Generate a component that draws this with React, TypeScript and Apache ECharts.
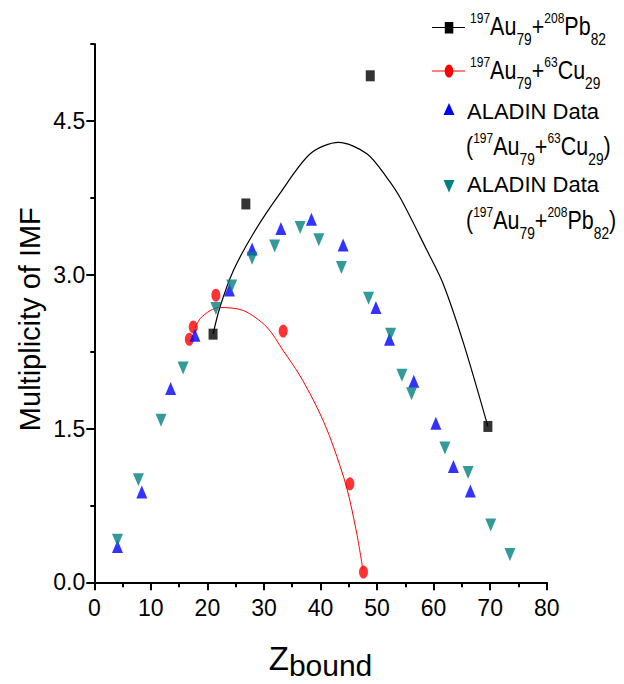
import React, { useEffect, useRef } from "react";
import * as echarts from "echarts";

// ---- Data ----
// 197Au79 + 208Pb82 (black squares) and its fit curve
const auPbZ = [21.0, 26.8, 48.8, 69.6];
const auPbM = [2.42, 3.69, 4.94, 1.52];
const auPbFitZ = [21.0, 22.2, 24.6, 28.1, 32.8, 38.2, 43.2, 48.2, 51.7, 54.1, 58.8, 61.7, 65.3, 69.6];
const auPbFitM = [2.42, 2.68, 3.04, 3.40, 3.79, 4.18, 4.29, 4.18, 3.95, 3.75, 3.24, 2.91, 2.33, 1.52];

// 197Au79 + 63Cu29 (red circles) and its fit curve
const auCuZ = [16.8, 17.5, 21.5, 33.4, 45.2, 47.6];
const auCuM = [2.37, 2.49, 2.80, 2.45, 0.96, 0.10];
const auCuFitZ = [17.8, 18.7, 20.5, 22.2, 26.4, 30.5, 33.4, 36.2, 38.7, 40.6, 42.3, 44.6, 46.4, 47.5];
const auCuFitM = [2.48, 2.57, 2.65, 2.68, 2.65, 2.49, 2.26, 2.03, 1.78, 1.56, 1.32, 0.93, 0.48, 0.12];

// ALADIN data (197Au79 + 63Cu29), blue up-triangles
const aladinCuZ = [4.1, 8.4, 13.5, 17.8, 23.9, 27.9, 33.0, 38.4, 44.0, 49.8, 52.2, 56.5, 60.4, 63.5, 66.5];
const aladinCuM = [0.35, 0.88, 1.89, 2.41, 2.85, 3.25, 3.45, 3.54, 3.29, 2.68, 2.37, 1.96, 1.55, 1.13, 0.89];

// ALADIN data (197Au79 + 208Pb82), teal down-triangles
const aladinPbZ = [4.1, 7.8, 11.8, 15.7, 21.5, 24.3, 27.9, 31.9, 36.4, 39.7, 43.7, 48.5, 52.4, 54.4, 56.1, 62.0, 66.1, 70.1, 73.5];
const aladinPbM = [0.41, 1.0, 1.58, 2.09, 2.67, 2.89, 3.16, 3.28, 3.46, 3.34, 3.07, 2.77, 2.42, 2.02, 1.84, 1.31, 1.07, 0.56, 0.27];

// Axis ticks
const yMajorTicks = [0, 1.5, 3.0, 4.5];
const xMin = 0;
const xMax = 80;
const xStep = 10;
const yMin = 0;
const yMax = 5.25;
const yMinorStep = 0.75;

const pairs = (xs: number[], ys: number[]) => xs.map((x, i) => [x, ys[i]]);

const TICK_FONT = "'Liberation Sans', Arial, sans-serif";
const LFONT = "'Liberation Sans', Arial, sans-serif";

const isoRich: any = {
  sup: { fontSize: 14, lineHeight: 14, padding: [1, 0, 0, 0], verticalAlign: "top", fontFamily: LFONT, fill: "#000" },
  big: { fontSize: 25, lineHeight: 25, padding: [4, 0, 0, 0], verticalAlign: "top", fontFamily: LFONT, fill: "#000" },
  sub: { fontSize: 16, lineHeight: 16, padding: [21, 0, 0, 0], verticalAlign: "top", fontFamily: LFONT, fill: "#000" },
};

const legendPb = "{sup|197}{big|Au}{sub|79}{big|+}{sup|208}{big|Pb}{sub|82}";
const legendCu = "{sup|197}{big|Au}{sub|79}{big|+}{sup|63}{big|Cu}{sub|29}";
const legendAladinCu = "{big|(}{sup|197}{big|Au}{sub|79}{big|+}{sup|63}{big|Cu}{sub|29}{big|)}";
const legendAladinPb = "{big|(}{sup|197}{big|Au}{sub|79}{big|+}{sup|208}{big|Pb}{sub|82}{big|)}";

export default function App() {
  const ref = useRef<HTMLDivElement>(null);

  useEffect(() => {
    if (!ref.current) return;
    const chart = echarts.init(ref.current, null, { renderer: "svg" });

    const isoText = (x: number, y: number, text: string) => ({
      type: "text",
      x,
      y,
      scaleX: 0.86,
      style: { text, rich: isoRich, verticalAlign: "top", align: "left", fill: "#000", fontFamily: LFONT },
    });
    const plainText = (x: number, y: number, text: string) => ({
      type: "text",
      x,
      y,
      style: { text, fontSize: 22, verticalAlign: "top", align: "left", fill: "#000", fontFamily: LFONT },
    });

    const option: any = {
      animation: false,
      backgroundColor: "#fff",
      grid: { left: 94.3, right: 77.3, top: 44, bottom: 101.7, containLabel: false, outerBoundsMode: "none" },
      xAxis: {
        type: "value",
        min: xMin,
        max: xMax,
        interval: xStep,
        name: "{z|Z}{b|bound}",
        nameLocation: "middle",
        nameGap: 60,
        nameTextStyle: {
          rich: {
            z: { fontSize: 33, lineHeight: 33, verticalAlign: "top", padding: [0, 0, 0, 0], fontFamily: LFONT, color: "#000" },
            b: { fontSize: 30, lineHeight: 30, verticalAlign: "top", padding: [8, 0, 0, 0], fontFamily: LFONT, color: "#000" },
          },
        },
        axisLine: { show: true, lineStyle: { color: "#000", width: 2 } },
        axisTick: { show: true, inside: false, length: 8, lineStyle: { color: "#000", width: 2 } },
        minorTick: { show: true, splitNumber: 2, length: 5, lineStyle: { color: "#000", width: 2 } },
        splitLine: { show: false },
        minorSplitLine: { show: false },
        axisLabel: { show: true, margin: 14, fontSize: 23, color: "#000", fontFamily: TICK_FONT },
      },
      yAxis: [
        {
          type: "value",
          min: yMin,
          max: yMax,
          interval: yMinorStep,
          position: "left",
          axisLine: { show: true, onZero: false, lineStyle: { color: "#000", width: 2 } },
          axisTick: { show: true, inside: false, length: 4, lineStyle: { color: "#000", width: 2 } },
          axisLabel: { show: false },
          splitLine: { show: false },
          name: "Multiplicity of IMF",
          nameLocation: "middle",
          nameGap: 50,
          nameRotate: 90,
          nameTextStyle: { fontSize: 29, color: "#000", fontFamily: LFONT, padding: [0, 12, 0, 0] },
        },
        {
          type: "value",
          min: yMin,
          max: yMax,
          interval: 1.5,
          position: "left",
          axisLine: { show: false },
          axisTick: { show: true, inside: false, length: 8, customValues: yMajorTicks, lineStyle: { color: "#000", width: 2 } },
          axisLabel: {
            show: true,
            margin: 9,
            fontSize: 23,
            color: "#000",
            fontFamily: TICK_FONT,
            customValues: yMajorTicks,
            formatter: (v: number) => (yMajorTicks.some((t) => Math.abs(t - v) < 1e-6) ? v.toFixed(1) : ""),
          },
          splitLine: { show: false },
        },
      ],
      series: [
        {
          name: "Au+Pb fit",
          type: "line",
          data: pairs(auPbFitZ, auPbFitM),
          smooth: 0.3,
          showSymbol: false,
          symbol: "none",
          lineStyle: { color: "#000", width: 1.2 },
          z: 2,
        },
        {
          name: "Au+Cu fit",
          type: "line",
          data: pairs(auCuFitZ, auCuFitM),
          smooth: 0.3,
          showSymbol: false,
          symbol: "none",
          lineStyle: { color: "#ff0000", width: 1 },
          z: 2,
        },
        {
          name: "197Au79+208Pb82",
          type: "scatter",
          data: pairs(auPbZ, auPbM),
          symbol: "rect",
          symbolSize: [9, 11],
          itemStyle: { color: "#000" },
          z: 3,
        },
        {
          name: "197Au79+63Cu29",
          type: "scatter",
          data: pairs(auCuZ, auCuM),
          symbol: "circle",
          symbolSize: [9, 13],
          itemStyle: { color: "#ff0000" },
          z: 4,
        },
        {
          name: "ALADIN Data (197Au79+63Cu29)",
          type: "scatter",
          data: pairs(aladinCuZ, aladinCuM),
          symbol: "triangle",
          symbolSize: [11, 13],
          itemStyle: { color: "#0000ff" },
          z: 5,
        },
        {
          name: "ALADIN Data (197Au79+208Pb82)",
          type: "scatter",
          data: pairs(aladinPbZ, aladinPbM),
          symbol: "triangle",
          symbolRotate: 180,
          symbolSize: [11, 13],
          itemStyle: { color: "#008080" },
          z: 6,
        },
      ],
      graphic: [
        { type: "line", shape: { x1: 432, y1: 27.5, x2: 465, y2: 27.5 }, style: { stroke: "#000", lineWidth: 1 } },
        { type: "rect", shape: { x: 444.8, y: 22, width: 8.5, height: 11.5 }, style: { fill: "#000" } },
        isoText(470, 10, legendPb),
        { type: "line", shape: { x1: 432, y1: 71, x2: 465, y2: 71 }, style: { stroke: "#ff0000", lineWidth: 1 } },
        { type: "ellipse", shape: { cx: 449, cy: 71, rx: 4.3, ry: 6.6 }, style: { fill: "#ff0000" } },
        isoText(470, 54, legendCu),
        { type: "polygon", shape: { points: [[449, 103], [454.5, 115], [443.5, 115]] }, style: { fill: "#0000ff" } },
        plainText(467, 100, "ALADIN Data"),
        isoText(466, 130, legendAladinCu),
        { type: "polygon", shape: { points: [[443.5, 180], [454.5, 180], [449, 192.5]] }, style: { fill: "#008080" } },
        plainText(467, 173, "ALADIN Data"),
        isoText(466, 204, legendAladinPb),
      ],
    };

    chart.setOption(option);
    return () => chart.dispose();
  }, []);

  return (
    <div
      ref={ref}
      style={{ position: "absolute", left: 0, top: 0, width: 624, height: 684, background: "#fff" }}
    />
  );
}
